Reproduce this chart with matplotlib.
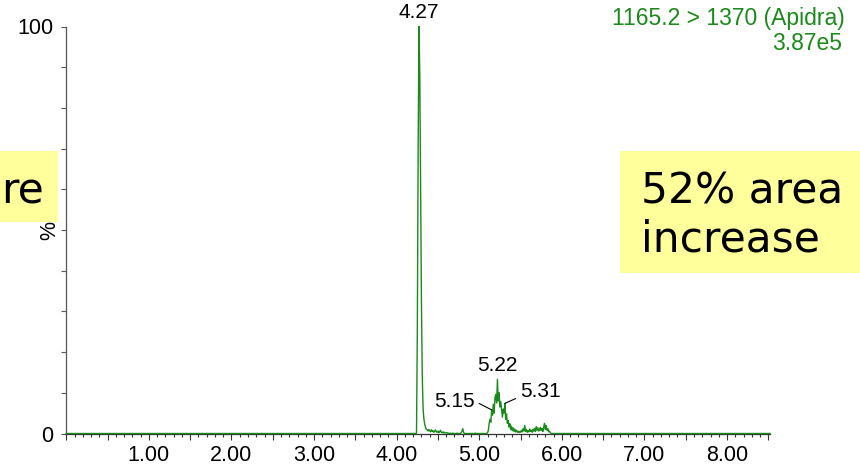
import matplotlib
matplotlib.use("Agg")
import matplotlib.pyplot as plt
from matplotlib.patches import Rectangle
from matplotlib.ticker import MultipleLocator, FuncFormatter

# chromatogram trace, 1165.2 > 1370 (Apidra)
run_start = 0.0
run_end = 8.52
scan_start = 4.20          # first point of the detailed window (min)
scan_step = 0.01           # spacing of the detailed window (min)
intensity = [
    0, 0, 0, 0, 0, 25, 70, 100, 88, 60,                      # 4.20
    32, 14, 6, 3.5, 2.2, 1.5, 1.0, 0.9, 0.6, 1.0,            # 4.30
    0.7, 0.4, 0.9, 0.5, 0.7, 0.3, 0.6, 0.9, 0.4, 0.3,        # 4.40
    0.6, 0.2, 0.4, 0.8, 0.3, 0.2, 0.4, 0.1, 0.3, 0.2,        # 4.50
    0.1, 0.2, 0, 0.1, 0, 0.1, 0, 0, 0.1, 0,                  # 4.60
    0, 0, 0, 0.1, 0, 0, 0, 0, 0.2, 0.5,                      # 4.70
    1.2, 0.3, 0, 0, 0, 0, 0, 0, 0, 0,                        # 4.80
    0, 0, 0, 0, 0, 0.1, 0, 0, 0, 0,                          # 4.90
    0, 0, 0, 0, 0, 0, 0, 0, 0, 0,                            # 5.00
    0.2, 0.8, 2.5, 3.5, 2.8, 5.8, 4.5, 7.2, 5.0, 8.8,        # 5.10
    9.6, 7.5, 13.3, 8.0, 10.0, 6.5, 7.8, 5.8, 4.0, 6.0,      # 5.20
    5.0, 7.4, 3.5, 4.8, 2.5, 3.2, 1.6, 2.4, 1.0, 1.8,        # 5.30
    0.7, 1.4, 0.5, 1.1, 0.4, 0.8, 0.3, 0.6, 0.2, 0.5,        # 5.40
    0.3, 0.8, 0.4, 1.2, 0.6, 2.0, 0.5, 1.0, 0.3, 0.7,        # 5.50
    0.4, 1.1, 0.5, 0.8, 0.3, 1.0, 0.6, 1.3, 0.5, 1.7,        # 5.60
    0.8, 1.4, 0.6, 1.0, 1.5, 0.7, 1.2, 0.5, 1.6, 2.5,        # 5.70
    1.0, 2.0, 0.8, 1.2, 0.4, 0.6, 0.2, 0, 0, 0,              # 5.80
    0,                                                       # 5.90
]

# peak labels: retention time, height
peak_rt = [4.27, 5.22, 5.15, 5.31]
peak_height = [100, 13.3, 5.8, 7.4]
peak_text = ["4.27", "5.22", "5.15", "5.31"]

x_labels = [1, 2, 3, 4, 5, 6, 7, 8]
channel = "1165.2 > 1370 (Apidra)"
max_counts = "3.87e5"

green = "#1a8a1a"
note_yellow = "#ffff9c"
label_font = ["Liberation Sans", "DejaVu Sans"]


def build_trace():
    t = [run_start]
    y = [0]
    for i, v in enumerate(intensity):
        t.append(round(scan_start + i * scan_step, 2))
        y.append(v)
    t.append(run_end)
    y.append(0)
    return t, y


def xfmt(x, pos):
    if abs(x - round(x)) < 1e-6 and int(round(x)) in x_labels:
        return "%.2f" % x
    return ""


def yfmt(v, pos):
    if abs(v) < 1e-6 or abs(v - 100) < 1e-6:
        return "%d" % v
    return ""


def plot_chrom(out_plot):
    fontsize = 15.5
    fig = plt.figure(figsize=(8.6, 4.71), dpi=100)
    ax = fig.add_axes([66.3 / 860, 37.5 / 471, (770 - 66.3) / 860, (434 - 27) / 471])

    t, y = build_trace()
    ax.plot(t, y, color=green, linewidth=1.0, clip_on=False, zorder=3)
    ax.set_xlim(run_start, run_end)
    ax.set_ylim(0, 100)

    for s in ["top", "right"]:
        ax.spines[s].set_visible(False)
    ax.spines["left"].set_color("#555555")
    ax.spines["bottom"].set_color("#333333")
    ax.spines["left"].set_linewidth(0.9)
    ax.spines["bottom"].set_linewidth(0.9)

    ax.xaxis.set_major_locator(MultipleLocator(0.5))
    ax.xaxis.set_minor_locator(MultipleLocator(0.1))
    ax.xaxis.set_major_formatter(FuncFormatter(xfmt))
    ax.yaxis.set_major_locator(MultipleLocator(10))
    ax.yaxis.set_major_formatter(FuncFormatter(yfmt))
    ax.tick_params(axis="x", which="major", length=4.3, width=0.8, pad=4, color="#333333")
    ax.tick_params(axis="x", which="minor", length=2.2, width=0.8, color="#333333")
    ax.tick_params(axis="y", length=3.6, width=0.8, pad=5.5, color="#555555")
    for lab in ax.get_xticklabels() + ax.get_yticklabels():
        lab.set_fontsize(fontsize)
        lab.set_family(label_font)

    ax.text(-0.0232, 0.5, "%", transform=ax.transAxes, rotation=90,
            ha="center", va="center", fontsize=fontsize, family=label_font, clip_on=False)

    # peak labels
    for rt, h, txt in zip(peak_rt[:2], peak_height[:2], peak_text[:2]):
        ax.annotate(txt, xy=(rt, h), xytext=(0, 3), textcoords="offset points",
                    ha="center", va="bottom", fontsize=fontsize - 0.5,
                    family=label_font, annotation_clip=False)
    ax.annotate(peak_text[2], xy=(peak_rt[2], peak_height[2]), xytext=(4.95, 7.9),
                ha="right", va="center", fontsize=fontsize - 0.5, family=label_font,
                arrowprops=dict(arrowstyle="-", color="black", lw=0.8,
                                relpos=(1.0, 0.5), shrinkA=1, shrinkB=0))
    ax.annotate(peak_text[3], xy=(peak_rt[3], peak_height[3]), xytext=(5.49, 10.2),
                ha="left", va="center", fontsize=fontsize - 0.5, family=label_font,
                arrowprops=dict(arrowstyle="-", color="black", lw=0.8,
                                relpos=(0.0, 0.25), shrinkA=1, shrinkB=0))

    # channel info, top right
    fig.text(845 / 860, 1 - 18 / 471, channel, ha="right", va="center",
             color=green, fontsize=16.5, family=label_font)
    fig.text(842 / 860, 1 - 43 / 471, max_counts, ha="right", va="center",
             color=green, fontsize=16.5, family=label_font)

    # yellow call-out boxes (slide overlay)
    fig.patches.append(Rectangle((0, (471 - 222) / 471), 58 / 860, 71 / 471,
                                 transform=fig.transFigure, facecolor=note_yellow,
                                 edgecolor="none", zorder=1))
    fig.patches.append(Rectangle((620 / 860, (471 - 273) / 471), 240 / 860, 122 / 471,
                                 transform=fig.transFigure, facecolor=note_yellow,
                                 edgecolor="none", zorder=1))
    fig.text(1 / 860, (471 - 203) / 471, "re", ha="left", va="baseline",
             fontsize=30.5, family="DejaVu Sans", zorder=2)
    fig.text(641 / 860, (471 - 203) / 471, "52% area", ha="left", va="baseline",
             fontsize=30.5, family="DejaVu Sans", zorder=2)
    fig.text(641 / 860, (471 - 251) / 471, "increase", ha="left", va="baseline",
             fontsize=30.5, family="DejaVu Sans", zorder=2)

    fig.savefig(out_plot, dpi=100)
    plt.close(fig)


def main():
    plot_chrom("out.png")


if __name__ == '__main__':
    main()
